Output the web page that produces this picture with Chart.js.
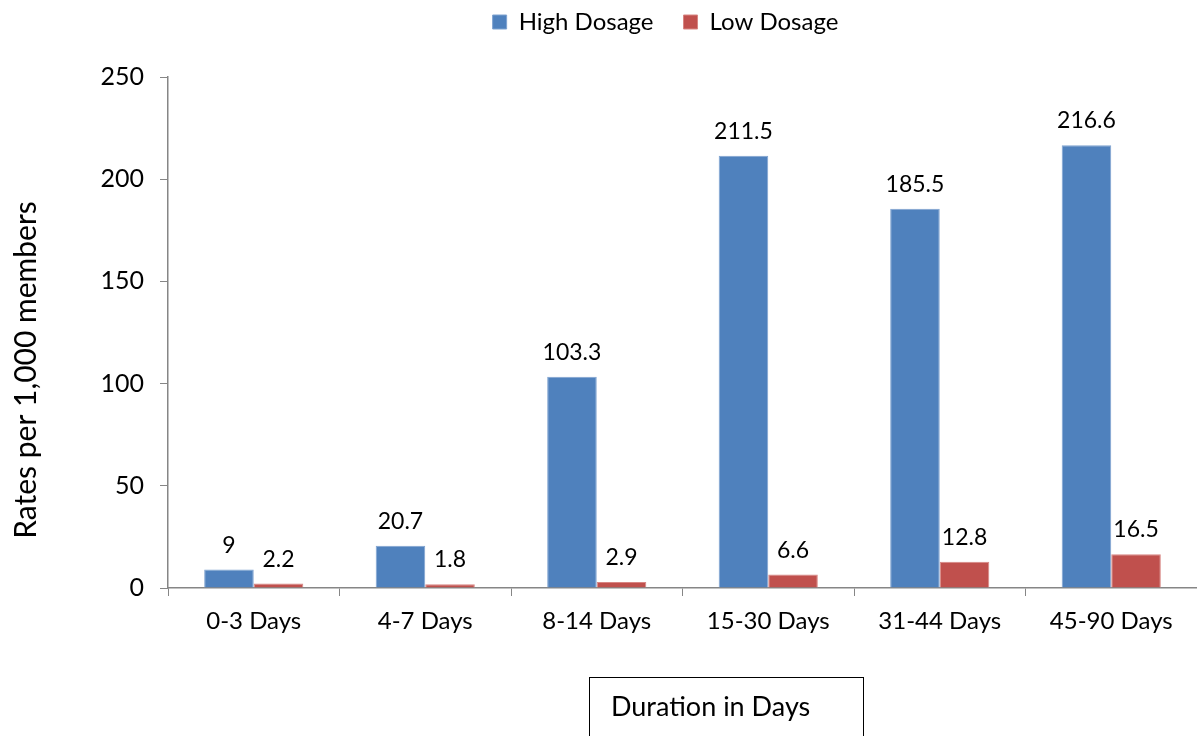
<!DOCTYPE html>
<html>
<head>
<meta charset="utf-8">
<script src="https://cdn.jsdelivr.net/npm/chart.js@4.4.1/dist/chart.umd.min.js"></script>
<style>
  html, body { margin: 0; padding: 0; background: #fff; }
  #wrap { width: 1197px; height: 736px; position: relative; }
</style>
</head>
<body>
<div id="wrap"><canvas id="c"></canvas></div>
<script>
const categories = ['0-3 Days', '4-7 Days', '8-14 Days', '15-30 Days', '31-44 Days', '45-90 Days'];
const highDosage = [9, 20.7, 103.3, 211.5, 185.5, 216.6];
const lowDosage = [2.2, 1.8, 2.9, 6.6, 12.8, 16.5];
const yTicks = [0, 50, 100, 150, 200, 250];
const xTitle = 'Duration in Days';
const yTitle = 'Rates per 1,000 members';

const FONT = 'Lato, "Open Sans", sans-serif';
const AXIS = '#868686';
const LEGEND_PAD = 30;

// Reserve a fixed band at the top for the legend, and sit the legend row
// over the plot area rather than the full canvas width
const legendBand = {
  id: 'legendBand',
  beforeInit(chart) {
    const fit = chart.legend.fit;
    chart.legend.fit = function () {
      fit.call(this);
      this.height = 77;
    };
  },
  afterLayout(chart) {
    const lg = chart.legend;
    lg.top = 22 - 12 - LEGEND_PAD;
    lg.left = 134;
    lg.right = chart.width;
  }
};

// Writes each bar's value just above it
const valueLabels = {
  id: 'valueLabels',
  afterDatasetsDraw(chart) {
    const ctx = chart.ctx;
    ctx.save();
    ctx.font = '23px ' + FONT;
    ctx.fillStyle = '#000';
    ctx.textAlign = 'center';
    ctx.textBaseline = 'alphabetic';
    chart.data.datasets.forEach((ds, i) => {
      chart.getDatasetMeta(i).data.forEach((bar, j) => {
        ctx.fillText(String(ds.data[j]), bar.x, bar.y - 17);
      });
    });
    ctx.restore();
  }
};

// Axis titles: rotated y title and boxed x title
const axisTitles = {
  id: 'axisTitles',
  afterDraw(chart) {
    const ctx = chart.ctx;
    ctx.save();
    ctx.font = '30px ' + FONT;
    ctx.fillStyle = '#000';
    ctx.translate(26, 370);
    ctx.rotate(-Math.PI / 2);
    ctx.textAlign = 'center';
    ctx.textBaseline = 'middle';
    ctx.fillText(yTitle, 0, 0);
    ctx.restore();

    ctx.save();
    ctx.strokeStyle = '#000';
    ctx.lineWidth = 1;
    ctx.strokeRect(589.5, 677.5, 274, 80);
    ctx.font = '27px ' + FONT;
    ctx.fillStyle = '#000';
    ctx.textAlign = 'left';
    ctx.textBaseline = 'alphabetic';
    ctx.fillText(xTitle, 611, 716);
    ctx.restore();
  }
};

new Chart(document.getElementById('c'), {
  type: 'bar',
  data: {
    labels: categories,
    datasets: [
      { label: 'High Dosage', data: highDosage, backgroundColor: '#4F81BD', borderColor: '#7FA3D0', borderWidth: 1 },
      { label: 'Low Dosage', data: lowDosage, backgroundColor: '#C0504D', borderColor: '#D88683', borderWidth: 1 }
    ]
  },
  options: {
    responsive: true,
    maintainAspectRatio: false,
    animation: false,
    layout: { padding: { top: 0, right: 0, bottom: 0, left: 0 } },
    datasets: { bar: { categoryPercentage: 0.578, barPercentage: 1.0 } },
    plugins: {
      legend: {
        position: 'top',
        labels: {
          font: { family: FONT, size: 24 },
          color: '#000',
          boxWidth: 14,
          boxHeight: 14,
          padding: LEGEND_PAD
        }
      },
      tooltip: { enabled: false }
    },
    scales: {
      x: {
        afterFit(s) { s.height = 148; },
        grid: { drawOnChartArea: false, drawTicks: true, tickLength: 8, color: AXIS, offset: true },
        border: { display: true, color: AXIS, width: 1.5 },
        ticks: { font: { family: FONT, size: 24 }, color: '#000', padding: 11, maxRotation: 0 }
      },
      y: {
        min: 0,
        max: 250,
        afterFit(s) { s.width = 168; },
        afterBuildTicks(s) { s.ticks = yTicks.map(v => ({ value: v })); },
        grid: { drawOnChartArea: false, drawTicks: true, tickLength: 8, color: AXIS },
        border: { display: true, color: AXIS, width: 1.5 },
        ticks: { font: { family: FONT, size: 25 }, color: '#000', padding: 16 }
      }
    }
  },
  plugins: [legendBand, valueLabels, axisTitles]
});
</script>
</body>
</html>
